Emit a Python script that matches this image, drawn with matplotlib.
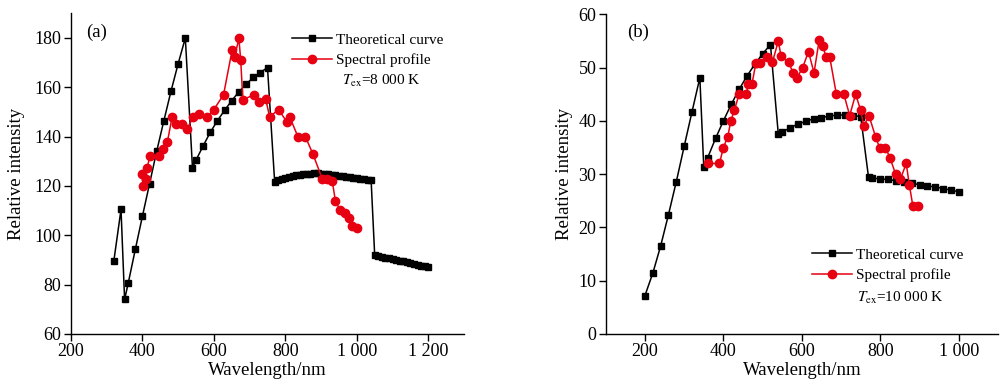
import matplotlib
matplotlib.use("Agg")
import matplotlib.pyplot as plt
from matplotlib.lines import Line2D

plt.rcParams['font.family'] = ['Liberation Serif', 'DejaVu Serif']
plt.rcParams['mathtext.fontset'] = 'stix'

# ---------------- Panel (a) data ----------------
a_theo_x = [320, 340, 350, 360, 380, 400, 420, 440, 460, 480, 500, 520, 540, 550,
            570, 590, 610, 630, 650, 670, 690, 710, 730, 750,
            770, 780, 790, 800, 810, 820, 830, 840, 850, 860, 870, 880, 890, 900,
            910, 920, 930, 940, 950, 960, 970, 980, 990, 1000, 1010, 1020, 1030, 1040,
            1050, 1060, 1070, 1080, 1090, 1100, 1110, 1120, 1130, 1140, 1150, 1160,
            1170, 1180, 1190, 1200]
a_theo_y = [89.7, 110.5, 74.0, 80.5, 94.3, 107.8, 121.0, 134.2, 146.5, 158.5, 169.6, 180.0, 127.4, 130.5,
            136.3, 141.8, 146.5, 150.7, 154.6, 158.2, 161.2, 164.0, 166.0, 168.0,
            121.7, 122.3, 122.8, 123.3, 123.7, 124.0, 124.3, 124.6, 124.8, 124.9, 125.0, 125.1, 125.1, 125.0,
            124.9, 124.8, 124.6, 124.4, 124.2, 124.0, 123.8, 123.6, 123.4, 123.2, 123.0, 122.8, 122.6, 122.4,
            92.0, 91.7, 91.4, 91.0, 90.7, 90.4, 90.0, 89.7, 89.4, 89.0, 88.7, 88.4,
            88.0, 87.7, 87.4, 87.1]
a_spec_x = [398, 402, 409, 413, 421, 447, 458, 470, 483, 495, 510, 525, 542, 558, 581, 600,
            627, 651, 658, 670, 675, 681, 713, 726, 745, 756, 781, 804, 812, 835, 856, 877,
            903, 916, 931, 940, 953, 968, 977, 987, 1000]
a_spec_y = [125.0, 120.0, 122.7, 127.3, 132.2, 132.2, 135.0, 138.0, 148.0, 145.0, 145.0, 143.0,
            148.0, 149.2, 148.0, 151.0, 157.0, 175.1, 172.4, 179.8, 171.0, 155.0, 157.0, 154.0,
            155.2, 148.0, 151.0, 146.0, 148.1, 140.0, 140.0, 133.0, 123.0, 122.8, 122.2, 114.0,
            110.2, 109.2, 107.0, 103.8, 102.8]

# ---------------- Panel (b) data ----------------
b_theo_x = [200, 220, 240, 260, 280, 300, 320, 340, 350, 360, 380, 400, 420, 440, 460, 480,
            500, 520, 540, 550, 570, 590, 610, 630, 650, 670, 690, 710, 730, 750,
            770, 780, 800, 820, 840, 860, 880, 900, 920, 940, 960, 980, 1000]
b_theo_y = [7.2, 11.4, 16.5, 22.4, 28.6, 35.2, 41.7, 48.1, 31.3, 33.1, 36.7, 40.0, 43.1, 45.9,
            48.4, 50.6, 52.6, 54.3, 37.5, 37.9, 38.7, 39.4, 39.9, 40.4, 40.6, 40.9, 41.1, 41.1,
            41.0, 40.8, 29.4, 29.25, 29.1, 29.0, 28.75, 28.5, 28.25, 28.05, 27.8, 27.6, 27.3,
            27.0, 26.7]
b_spec_x = [362, 390, 400, 411, 419, 428, 440, 458, 464, 473, 483, 494, 511, 525, 540, 547,
            566, 578, 587, 602, 617, 631, 644, 654, 661, 671, 688, 707, 722, 737, 750, 758,
            771, 788, 798, 813, 825, 839, 851, 866, 874, 883, 895]
b_spec_y = [32.0, 32.0, 35.0, 37.0, 40.0, 42.0, 45.0, 45.0, 47.0, 47.0, 50.9, 50.9, 52.0, 51.0,
            55.0, 52.1, 51.0, 49.0, 48.0, 50.0, 53.0, 49.0, 55.1, 54.1, 52.0, 52.0, 45.0, 45.0,
            41.0, 45.0, 42.0, 39.0, 41.0, 37.0, 35.0, 35.0, 33.0, 30.0, 29.0, 32.0, 28.0, 24.0, 24.0]

a_xticks = [200, 400, 600, 800, 1000, 1200]
a_xticklabels = ["200", "400", "600", "800", "1 000", "1 200"]
a_yticks = [60, 80, 100, 120, 140, 160, 180]
b_xticks = [200, 400, 600, 800, 1000]
b_xticklabels = ["200", "400", "600", "800", "1 000"]
b_yticks = [0, 10, 20, 30, 40, 50, 60]

labels = ["Theoretical curve", "Spectral profile"]
RED = '#E60012'

fig = plt.figure(figsize=(10, 3.9), dpi=100)
W, H = 1000.0, 390.0

def fx(px):
    return px / W

def fy(py):
    return 1 - py / H

ax1 = fig.add_axes([fx(71), fy(334), (464 - 71) / W, (334 - 13.3) / H])
ax2 = fig.add_axes([fx(605.7), fy(334), (998 - 605.7) / W, (334 - 14.3) / H])

for ax, lp in ((ax1, 7), (ax2, 4)):
    for s in ('top', 'right'):
        ax.spines[s].set_visible(False)
    for s in ('left', 'bottom'):
        ax.spines[s].set_linewidth(1.0)
    ax.tick_params(direction='out', length=4.8, width=1.0, labelsize=13, pad=2)
    ax.set_xlabel("Wavelength/nm", fontsize=13.5, labelpad=1)
    ax.set_ylabel("Relative intensity", fontsize=13.5, labelpad=lp)

ax1.plot(a_theo_x, a_theo_y, color='black', lw=1.1, marker='s', ms=4.6, zorder=3)
ax1.plot(a_spec_x, a_spec_y, color=RED, lw=1.1, marker='o', ms=6, zorder=4)
ax1.set_xlim(200, 1300)
ax1.set_ylim(60, 190)
ax1.set_xticks(a_xticks)
ax1.set_xticklabels(a_xticklabels)
ax1.set_yticks(a_yticks)
ax1.text(fx(86), fy(32), "(a)", transform=fig.transFigure, fontsize=13.5, va='center', ha='left')

ax2.plot(b_theo_x, b_theo_y, color='black', lw=1.1, marker='s', ms=4.6, zorder=3)
ax2.plot(b_spec_x, b_spec_y, color=RED, lw=1.1, marker='o', ms=6, zorder=4)
ax2.set_xlim(100, 1100)
ax2.set_ylim(0, 60)
ax2.set_xticks(b_xticks)
ax2.set_xticklabels(b_xticklabels)
ax2.set_yticks(b_yticks)
ax2.text(fx(627), fy(32), "(b)", transform=fig.transFigure, fontsize=13.5, va='center', ha='left')

def make_handles():
    return [Line2D([], [], color='black', lw=1.1, marker='s', ms=4.6),
            Line2D([], [], color=RED, lw=1.1, marker='o', ms=6)]

leg_kw = dict(frameon=False, fontsize=11, handlelength=2.6, handletextpad=0.25,
              labelspacing=0.45, borderpad=0, borderaxespad=0, loc='upper left')
ax1.legend(make_handles(), labels, bbox_to_anchor=(fx(292), fy(33)),
           bbox_transform=fig.transFigure, **leg_kw)
ax2.legend(make_handles(), labels, bbox_to_anchor=(fx(812), fy(248)),
           bbox_transform=fig.transFigure, **leg_kw)

fig.text(fx(342), fy(81), r"$T_{\mathrm{ex}}$=8 000 K", fontsize=11, va='center', ha='left')
fig.text(fx(857), fy(298), r"$T_{\mathrm{ex}}$=10 000 K", fontsize=11, va='center', ha='left')

fig.savefig("out.png", dpi=100)
